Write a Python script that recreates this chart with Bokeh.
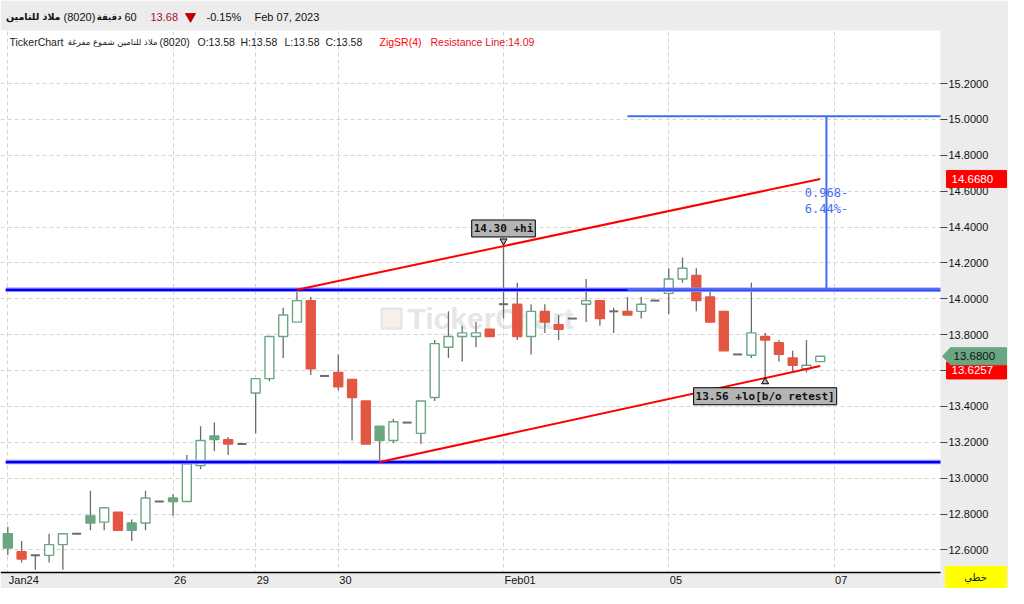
import numpy as np
from bokeh.plotting import figure
from bokeh.models import Range1d, FixedTicker, PrintfTickFormatter, Label, ColumnDataSource
from bokeh.core.properties import value
from bokeh.embed import file_html
from bokeh.resources import INLINE

# ---------------- data (hourly candles, Jan 24 -> Feb 06 2023) ----------------
opens = [12.69, 12.59, 12.57, 12.57, 12.63, 12.69, 12.79, 12.755, 12.81, 12.75,
         12.75, 12.87, 12.89, 12.87, 13.07, 13.235, 13.215, 13.19, 13.475, 13.555,
         13.79, 13.87, 13.99, 13.57, 13.59, 13.55, 13.43, 13.29, 13.21, 13.31,
         13.25, 13.45, 13.73, 13.79, 13.79, 13.83, 13.97, 13.97, 13.79, 13.93,
         13.855, 13.89, 13.97, 13.99, 13.93, 13.93, 13.93, 13.99, 14.03, 14.11,
         14.13, 14.01, 13.93, 13.69, 13.685, 13.79, 13.755, 13.67, 13.61, 13.65]
highs = [12.73, 12.65, 12.575, 12.69, 12.69, 12.69, 12.93, 12.835, 12.81, 12.77,
         12.93, 12.87, 12.91, 13.13, 13.29, 13.31, 13.23, 13.19, 13.555, 13.79,
         13.95, 14.05, 14.01, 13.57, 13.69, 13.55, 13.43, 13.29, 13.33, 13.31,
         13.43, 13.77, 13.93, 13.85, 13.87, 13.83, 14.30, 14.09, 13.97, 13.97,
         13.91, 13.89, 14.11, 13.99, 13.95, 14.01, 14.01, 13.99, 14.17, 14.23,
         14.17, 14.05, 13.93, 13.69, 14.09, 13.81, 13.77, 13.71, 13.77, 13.68]
lows = [12.57, 12.53, 12.49, 12.53, 12.49, 12.69, 12.71, 12.71, 12.71, 12.65,
        12.71, 12.87, 12.79, 12.87, 13.05, 13.15, 13.13, 13.19, 13.25, 13.54,
        13.67, 13.87, 13.575, 13.57, 13.49, 13.21, 13.19, 13.09, 13.195, 13.31,
        13.19, 13.43, 13.67, 13.65, 13.73, 13.79, 13.89, 13.77, 13.69, 13.81,
        13.77, 13.89, 13.87, 13.85, 13.81, 13.91, 13.89, 13.99, 13.915, 14.09,
        13.93, 13.87, 13.71, 13.69, 13.67, 13.56, 13.65, 13.595, 13.59, 13.65]
closes = [12.61, 12.55, 12.57, 12.63, 12.69, 12.69, 12.75, 12.835, 12.71, 12.71,
          12.89, 12.87, 12.87, 13.08, 13.21, 13.215, 13.19, 13.19, 13.555, 13.79,
          13.91, 13.99, 13.61, 13.57, 13.51, 13.45, 13.19, 13.21, 13.315, 13.31,
          13.43, 13.75, 13.79, 13.81, 13.81, 13.79, 13.97, 13.79, 13.93, 13.87,
          13.83, 13.89, 13.99, 13.89, 13.93, 13.91, 13.97, 13.99, 14.11, 14.17,
          13.99, 13.87, 13.71, 13.69, 13.81, 13.77, 13.69, 13.63, 13.63, 13.68]

day_ticks = [0, 12, 18, 24, 36, 48, 60]
day_labels = ["Jan24", "26", "29", "30", "Feb01", "05", "07"]
price_ticks = [12.6, 12.8, 13.0, 13.2, 13.4, 13.6, 13.8, 14.0, 14.2, 14.4, 14.6, 14.8, 15.0, 15.2]
grid_ticks = price_ticks

resistance_level = 14.05
support_level = 13.09
level_x = [-0.15, 67.95]
res_line_x = [21, 59]
res_line_y = [14.05, 14.668]
sup_line_x = [27, 59]
sup_line_y = [13.09, 13.6257]
measure_x = [45, 68.9]
measure_vx = 59.45
measure_low = 14.05
measure_high = 15.018
hi_idx = 36
lo_idx = 55

# ---------------- styles / page geometry ----------------
GREEN = "#6aa682"
RED = "#e25642"
WICK = "#6b6b6b"
GREY_BG = "#ececec"
LAT = "Liberation Sans"
ARB = "DejaVu Sans"
MONO = "DejaVu Sans Mono"
W, H = 1008, 588
PPU = 179.4          # pixels per price unit
PPX = 13.77          # pixels per bar
# half label widths (bars) so that the date labels start at their day line
label_shift = [1.16, 0.52, 0.52, 0.52, 1.2, 0.52, 0.52]


def ix(px):  # canvas x (px) -> bar-index units
    return (px - 7.3) / PPX


def vy(py):  # canvas y (px, from top) -> price units
    return 14.0 + (298.3 - py) / PPU


STRIP_X = 940        # left edge of the price strip (px)
BAND_Y = 571.5       # top edge of the time strip (px)
X_PLOT_END = ix(STRIP_X)
Y_PLOT_BOTTOM = vy(BAND_Y)

o = np.array(opens); h = np.array(highs); l = np.array(lows); c = np.array(closes)
idx = np.arange(len(o))
prev = np.r_[c[0], c[:-1]]
col = np.where(c >= prev - 1e-9, GREEN, RED)
doji = np.isclose(o, c)
hollow = c > o

p = figure(width=W, height=H, x_range=Range1d(ix(0), ix(W)), y_range=Range1d(vy(H), vy(0)),
           y_axis_location="right", toolbar_location=None, output_backend="svg", title=None,
           min_border=0, background_fill_color="white", border_fill_color=GREY_BG,
           outline_line_color=None)

# axes drawn inside the canvas at the chart edges
label_ticks = [round(t + s, 2) for t, s in zip(day_ticks, label_shift)]
p.xaxis.fixed_location = Y_PLOT_BOTTOM
p.xaxis.bounds = (ix(0), X_PLOT_END)
p.xaxis.ticker = FixedTicker(ticks=label_ticks)
p.xaxis.major_label_overrides = {t: s for t, s in zip(label_ticks, day_labels)}
p.xaxis.major_tick_out = 0
p.xaxis.major_tick_in = 0
p.xaxis.minor_tick_line_color = None
p.xaxis.axis_line_color = "black"
p.xaxis.axis_line_width = 1.5
p.xaxis.major_label_standoff = 2
p.xaxis.major_label_text_font = LAT
p.xaxis.major_label_text_font_size = "11px"
p.xaxis.major_label_text_color = "#111111"

p.yaxis.fixed_location = X_PLOT_END
p.yaxis.ticker = FixedTicker(ticks=price_ticks)
p.yaxis.formatter = PrintfTickFormatter(format="%.4f")
p.yaxis.axis_line_color = None
p.yaxis.major_tick_out = 7
p.yaxis.major_tick_in = 0
p.yaxis.major_tick_line_color = "#444444"
p.yaxis.minor_tick_line_color = None
p.yaxis.major_label_standoff = 1
p.yaxis.major_label_text_font = LAT
p.yaxis.major_label_text_font_size = "11px"
p.yaxis.major_label_text_color = "#111111"

p.xgrid.ticker = FixedTicker(ticks=day_ticks)
p.ygrid.ticker = FixedTicker(ticks=grid_ticks)
p.grid.grid_line_color = "#d4d4d4"
p.grid.grid_line_dash = "4 3"
p.grid.grid_line_width = 1

# watermark
p.scatter([ix(391)], [13.89], marker="square", size=20, fill_color="#f5f1ea",
          line_color="#e4e4e4", line_width=2, level="underlay")
p.text([ix(407)], [13.89], text=["TickerChart"], text_font=value(LAT), text_font_style="bold",
       text_font_size="30px", text_color="#e6e6e6", text_baseline="middle", text_align="left",
       level="underlay")

# wicks
p.segment(x0=idx, y0=l, x1=idx, y1=h, line_color=WICK, line_width=1.3)

# bodies
nd = ~doji
body = ColumnDataSource(dict(
    x=idx[nd], top=np.maximum(o, c)[nd], bottom=np.minimum(o, c)[nd],
    fill=np.where(hollow, "white", col)[nd], line=col[nd]))
p.vbar(x="x", top="top", bottom="bottom", width=0.65, fill_color="fill", line_color="line",
       line_width=1.4, source=body)

# doji
p.scatter(idx[doji], o[doji], marker="dash", size=9, line_color=WICK, line_width=2)

# horizontal levels
for lvl in (resistance_level, support_level):
    p.line(level_x, [lvl, lvl], line_color="#8a8aff", line_width=4.5)
    p.line(level_x, [lvl, lvl], line_color="#0000ee", line_width=2.2)

# trend lines
p.line(res_line_x, res_line_y, line_color="#ff0000", line_width=2)
p.line(sup_line_x, sup_line_y, line_color="#ff0000", line_width=2)

# measure tool
MC = "#3f6ff0"
p.line(measure_x, [measure_low, measure_low], line_color=MC, line_width=2)
p.line(measure_x, [measure_high, measure_high], line_color=MC, line_width=2)
p.line([measure_vx, measure_vx], [measure_low, measure_high], line_color=MC, line_width=2)
diff = measure_high - measure_low
p.add_layout(Label(x=measure_vx, y=14.593, text=f"{diff:.3f}-", text_align="center",
                   text_baseline="middle", text_font=MONO, text_font_size="12px", text_color=MC))
p.add_layout(Label(x=measure_vx, y=14.498, text="6.44%-", text_align="center",
                   text_baseline="middle", text_font=MONO, text_font_size="12px", text_color=MC))

# hi / lo markers
p.scatter([hi_idx], [h[hi_idx] + 4.0 / PPU], marker="inverted_triangle", size=7,
          fill_color="#b4b4b4", line_color="black", line_width=1)
p.add_layout(Label(x=hi_idx, y=h[hi_idx], y_offset=8, text=f"{h[hi_idx]:.2f} +hi",
                   text_align="center", text_baseline="bottom", text_font=MONO,
                   text_font_style="bold", text_font_size="11px", text_color="#111111",
                   background_fill_color="#b4b4b4", border_line_color="black", padding=2))
p.scatter([lo_idx], [l[lo_idx] - 4.0 / PPU], marker="triangle", size=7,
          fill_color="#b4b4b4", line_color="black", line_width=1)
p.add_layout(Label(x=lo_idx, y=l[lo_idx], y_offset=-10, text=f"{l[lo_idx]:.2f} +lo[b/o retest]",
                   text_align="center", text_baseline="top", text_font=MONO,
                   text_font_style="bold", text_font_size="11px", text_color="#111111",
                   background_fill_color="#b4b4b4", border_line_color="black", padding=2))

# grey frame areas (drawn over the chart glyphs, under the axes): header, price strip, time strip
p.quad(left=[ix(0), X_PLOT_END, ix(0)], right=[ix(W), ix(W), X_PLOT_END],
       bottom=[vy(30), vy(H), vy(H)], top=[vy(0), vy(30), Y_PLOT_BOTTOM],
       fill_color=GREY_BG, line_color=None)

# price tags on the price strip (drawn above the axis)
dy = 8.5 / PPU
p.quad(left=ix(946), right=ix(1006), top=res_line_y[1] + dy, bottom=res_line_y[1] - dy,
       fill_color="#ff0000", line_color="#ff0000", level="overlay")
p.text(x=[ix(951)], y=[res_line_y[1]], text=[f"{res_line_y[1]:.4f}"], text_font=value(LAT),
       text_font_size="11.5px", text_color="white", text_baseline="middle", level="overlay")
sy = sup_line_y[1] - 4.5 / PPU
p.quad(left=ix(946), right=ix(1006), top=sy + dy, bottom=sy - dy,
       fill_color="#ff0000", line_color="#ff0000", level="overlay")
p.text(x=[ix(951)], y=[sy], text=[f"{sup_line_y[1]:.4f}"], text_font=value(LAT),
       text_font_size="11.5px", text_color="white", text_baseline="middle", level="overlay")
lp = c[-1]
p.patch(x=[ix(942), ix(950), ix(1006), ix(1006), ix(950)],
        y=[lp, lp + dy, lp + dy, lp - dy, lp - dy],
        fill_color=GREEN, line_color=GREEN, level="overlay")
p.text(x=[ix(953)], y=[lp], text=[f"{lp:.4f}"], text_font=value(LAT),
       text_font_size="11.5px", text_color="#111111", text_baseline="middle", level="overlay")

# chart-type box
p.quad(left=ix(945), right=ix(1006), top=vy(566), bottom=vy(587),
       fill_color="#ffff00", line_color="#ffff00", level="overlay")
p.text(x=[ix(975)], y=[vy(576.5)], text=["خطي"], text_font=value(ARB), text_font_size="10px",
       text_color="#222222", text_align="center", text_baseline="middle", level="overlay")

# info line inside chart
info = [(9, "left", "TickerChart", LAT, "#1a1a1a", "10.5px"),
        (157, "right", "ملاذ للتامين شموع مفرغة", ARB, "#1a1a1a", "8.5px"),
        (159, "left", "(8020)", LAT, "#1a1a1a", "10.5px"),
        (197, "left", "O:13.58", LAT, "#1a1a1a", "10.5px"),
        (240, "left", "H:13.58", LAT, "#1a1a1a", "10.5px"),
        (284, "left", "L:13.58", LAT, "#1a1a1a", "10.5px"),
        (325, "left", "C:13.58", LAT, "#1a1a1a", "10.5px"),
        (379, "left", "ZigSR(4)", LAT, "#ff0000", "10.5px"),
        (430, "left", "Resistance Line:14.09", LAT, "#e8102a", "10.5px")]
for px, al, t, f, clr, fs in info:
    p.text([ix(px)], [vy(41)], text=[t], text_font=value(f), text_font_size=fs, text_color=clr,
           text_baseline="middle", text_align=al)

# header bar
items = [(60, "right", "ملاذ للتامين", ARB, "#111111", "bold", "9.5px"),
         (63, "left", "(8020)", LAT, "#111111", "normal", "11px"),
         (121, "right", "دقيقة", ARB, "#111111", "bold", "8.5px"),
         (124, "left", "60", LAT, "#111111", "normal", "11px"),
         (150, "left", "13.68", LAT, "#a3122c", "normal", "11px"),
         (206, "left", "-0.15%", LAT, "#111111", "normal", "11px"),
         (254, "left", "Feb 07, 2023", LAT, "#111111", "normal", "11px")]
for px, al, t, f, clr, st, fs in items:
    p.text([ix(px)], [vy(16)], text=[t], text_font=value(f), text_font_size=fs,
           text_color=clr, text_font_style=st, text_baseline="middle", text_align=al)
p.scatter([ix(190)], [vy(16)], marker="inverted_triangle", size=10, fill_color="#c00000",
          line_color="#c00000")

open("out.html", "w").write(file_html(p, INLINE))
